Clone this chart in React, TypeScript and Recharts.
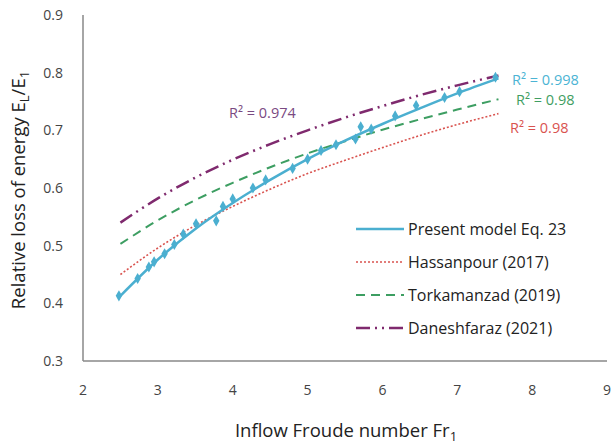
import { ComposedChart, Line, Scatter, XAxis, YAxis, ZAxis, Label } from 'recharts'

// measured points, present model (diamonds)
const measFr = [2.48, 2.73, 2.88, 2.95, 3.09, 3.22, 3.34, 3.51, 3.78, 3.87, 4.0, 4.27, 4.44, 4.8, 5.0, 5.18, 5.38, 5.64, 5.71, 5.85, 6.17, 6.45, 6.83, 7.03, 7.51]
const measLoss = [0.413, 0.443, 0.463, 0.472, 0.486, 0.502, 0.520, 0.538, 0.543, 0.568, 0.581, 0.600, 0.614, 0.634, 0.650, 0.665, 0.675, 0.685, 0.706, 0.702, 0.725, 0.743, 0.757, 0.767, 0.792]

// fitted curves
const curveFr = [2.5, 3, 3.5, 4, 4.5, 5, 5.5, 6, 6.5, 7, 7.55]
const present = [0.413, 0.476, 0.529, 0.574, 0.614, 0.650, 0.682, 0.711, 0.738, 0.764, 0.790]
const hassanpour = [0.450, 0.496, 0.535, 0.568, 0.598, 0.625, 0.648, 0.670, 0.691, 0.710, 0.729]
const torkamanzad = [0.503, 0.544, 0.579, 0.609, 0.636, 0.660, 0.681, 0.701, 0.719, 0.736, 0.754]
const daneshfaraz = [0.540, 0.582, 0.618, 0.649, 0.676, 0.700, 0.722, 0.742, 0.761, 0.778, 0.795]

const xTicks = [2, 3, 4, 5, 6, 7, 8, 9]
const yTicks = [0.3, 0.4, 0.5, 0.6, 0.7, 0.8, 0.9]

const BLUE = '#4bafd0'
const RED = '#d9534f'
const GREEN = '#3d9e62'
const PURPLE = '#7f2a6e'
const FONT = '"Open Sans", "Noto Sans", sans-serif'

const toPts = (xs: number[], ys: number[]) => xs.map((x, i) => ({ x, y: ys[i] }))

const series = [
  { name: 'Present model Eq. 23', color: BLUE, dash: undefined, width: 2.5 },
  { name: 'Hassanpour (2017)', color: RED, dash: '2 2', width: 1.6 },
  { name: 'Torkamanzad (2019)', color: GREEN, dash: '9 6', width: 2 },
  { name: 'Daneshfaraz (2021)', color: PURPLE, dash: '14 5 2 5 2 5', width: 2.5 },
]

function LegendBox() {
  return (
    <div style={{ position: 'absolute', left: 356, top: 212, fontFamily: FONT, fontSize: 16, color: '#222' }}>
      {series.map((s) => (
        <div key={s.name} style={{ display: 'flex', alignItems: 'center', height: 33 }}>
          <svg width={48} height={10} style={{ marginRight: 4 }}>
            <line x1={0} y1={5} x2={48} y2={5} stroke={s.color} strokeWidth={s.width} strokeDasharray={s.dash} />
          </svg>
          <span>{s.name}</span>
        </div>
      ))}
    </div>
  )
}

function YTitle(props: any) {
  const { viewBox } = props
  const cx = 25
  const cy = viewBox.y + viewBox.height / 2 + 2
  return (
    <text x={cx} y={cy} transform={`rotate(-90 ${cx} ${cy})`} textAnchor="middle" fontFamily={FONT} fontSize={18.5} fill="#222">
      Relative loss of energy E<tspan fontSize={13} dy={4}>L</tspan>
      <tspan dy={-4}>/E</tspan>
      <tspan fontSize={13} dy={4}>1</tspan>
    </text>
  )
}

function XTitle(props: any) {
  const { viewBox } = props
  const cx = viewBox.x + viewBox.width / 2 + 1
  return (
    <text x={cx} y={437} textAnchor="middle" fontFamily={FONT} fontSize={18.5} fill="#222">
      Inflow Froude number Fr<tspan fontSize={13} dy={4}>1</tspan>
    </text>
  )
}

const r2 = (text: string, color: string, left: number, top: number) => (
  <div style={{ position: 'absolute', left, top, color, fontFamily: FONT, fontSize: 14.5, lineHeight: '16px', whiteSpace: 'nowrap' }}>
    {text}
  </div>
)

const axisStroke = { stroke: '#888', strokeWidth: 1.5 }

export default function App() {
  return (
    <div style={{ position: 'absolute', left: 0, top: 0, width: 611, height: 446, background: '#fff' }}>
      <ComposedChart width={611} height={446} margin={{ top: 15, right: 4, bottom: 0, left: 0 }}>
        <XAxis
          type="number"
          dataKey="x"
          domain={[2, 9]}
          ticks={xTicks}
          allowDataOverflow
          tickLine={false}
          tickSize={0}
          tickMargin={24}
          height={85}
          axisLine={axisStroke}
          tick={{ fill: '#444', fontSize: 14, fontFamily: FONT }}
        >
          <Label content={<XTitle />} />
        </XAxis>
        <YAxis
          type="number"
          dataKey="y"
          domain={[0.3, 0.9]}
          ticks={yTicks}
          allowDataOverflow
          tickLine={false}
          tickSize={0}
          tickMargin={20}
          width={83}
          axisLine={axisStroke}
          tick={{ fill: '#444', fontSize: 14, fontFamily: FONT }}
          tickFormatter={(v: number) => v.toFixed(1)}
        >
          <Label content={<YTitle />} />
        </YAxis>
        <XAxis xAxisId="top" orientation="top" type="number" domain={[2, 9]} tick={false} tickLine={false} height={0} axisLine={axisStroke} />
        <YAxis yAxisId="right" orientation="right" type="number" domain={[0.3, 0.9]} tick={false} tickLine={false} width={0} axisLine={axisStroke} />
        <ZAxis range={[36, 36]} />
        <Line data={toPts(curveFr, hassanpour)} dataKey="y" stroke={RED} strokeWidth={1.6} strokeDasharray="2 2" dot={false} isAnimationActive={false} type="monotone" />
        <Line data={toPts(curveFr, torkamanzad)} dataKey="y" stroke={GREEN} strokeWidth={2} strokeDasharray="9 6" dot={false} isAnimationActive={false} type="monotone" />
        <Line data={toPts(curveFr, daneshfaraz)} dataKey="y" stroke={PURPLE} strokeWidth={2.5} strokeDasharray="14 5 2 5 2 5" dot={false} isAnimationActive={false} type="monotone" />
        <Line data={toPts(curveFr, present)} dataKey="y" stroke={BLUE} strokeWidth={2.5} dot={false} isAnimationActive={false} type="monotone" />
        <Scatter data={toPts(measFr, measLoss)} dataKey="y" fill={BLUE} shape="diamond" isAnimationActive={false} />
      </ComposedChart>
      <LegendBox />
      {r2('R² = 0.974', '#7a4a82', 229, 105)}
      {r2('R² = 0.998', '#4bb4d4', 512, 72)}
      {r2('R² = 0.98', '#3f9e62', 516, 92)}
      {r2('R² = 0.98', '#d9534f', 510, 120)}
    </div>
  )
}
